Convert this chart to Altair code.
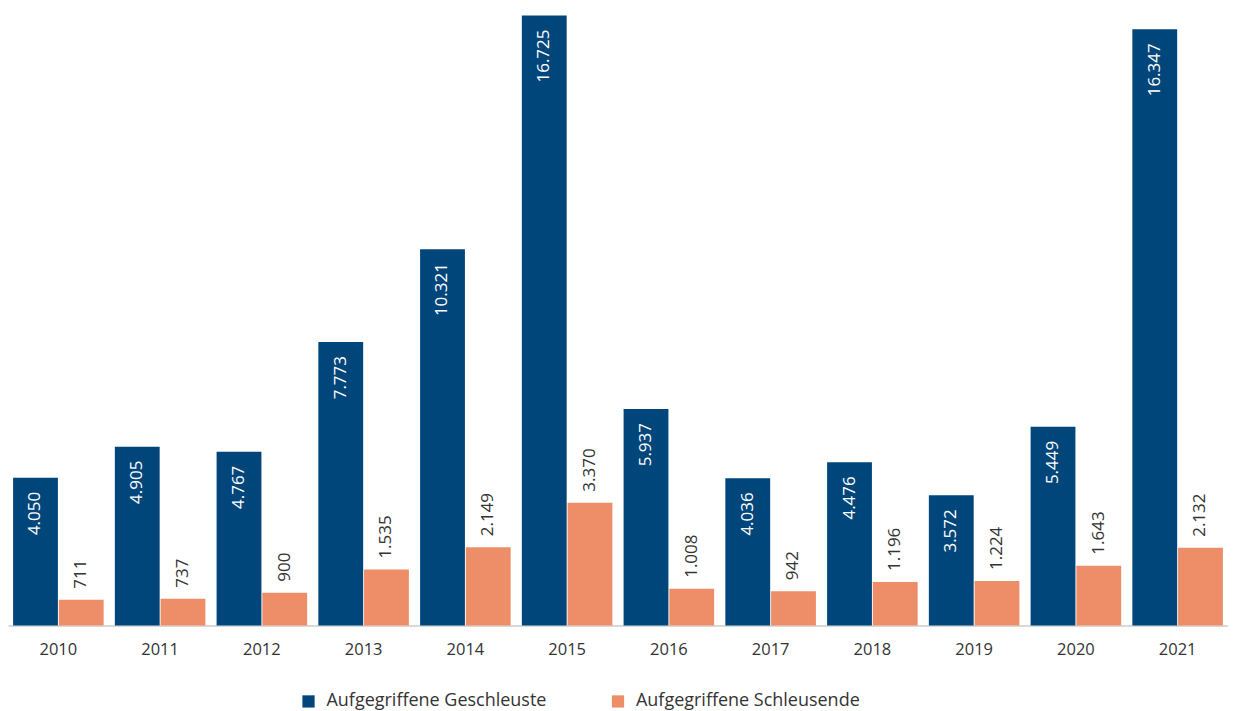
import altair as alt
import pandas as pd

years = ["2010", "2011", "2012", "2013", "2014", "2015", "2016", "2017", "2018", "2019", "2020", "2021"]
geschleuste = [4050, 4905, 4767, 7773, 10321, 16725, 5937, 4036, 4476, 3572, 5449, 16347]
schleusende = [711, 737, 900, 1535, 2149, 3370, 1008, 942, 1196, 1224, 1643, 2132]
series = ["Aufgegriffene Geschleuste", "Aufgegriffene Schleusende"]
colors = ["#00467A", "#ED8E68"]


def de(v):
    return f"{v:,}".replace(",", ".")


rows = []
for y, a, b in zip(years, geschleuste, schleusende):
    rows.append({"Jahr": y, "Serie": series[0], "Wert": a, "Label": de(a), "ord": 0})
    rows.append({"Jahr": y, "Serie": series[1], "Wert": b, "Label": de(b), "ord": 1})
df = pd.DataFrame(rows)

FONT = "Open Sans"

x = alt.X("Jahr:N", sort=years, title=None,
          scale=alt.Scale(paddingInner=0.11, paddingOuter=0.05),
          axis=alt.Axis(labelAngle=0, ticks=False, labelPadding=16, labelFontSize=16.5,
                        labelColor="#333333", domainColor="#cccccc", domainWidth=1.5,
                        labelFont=FONT))
xo = alt.XOffset("Serie:N", sort=series, scale=alt.Scale(paddingInner=0.02))
y = alt.Y("Wert:Q", axis=None, scale=alt.Scale(domain=[0, 16725], nice=False, zero=True))

base = alt.Chart(df).encode(x=x, xOffset=xo, y=y)

bars = base.mark_bar().encode(
    color=alt.Color("Serie:N", sort=series,
                    scale=alt.Scale(domain=series, range=colors),
                    legend=alt.Legend(title=None, orient="none", direction="horizontal",
                                      legendX=292, legendY=678, symbolType="square",
                                      symbolSize=150, symbolStrokeWidth=0,
                                      labelFontSize=18, labelFont=FONT, labelColor="#333333",
                                      labelLimit=0, columnPadding=62, labelOffset=9))
)

text_in = base.transform_filter(alt.datum.ord == 0).mark_text(
    angle=270, align="right", baseline="middle", dx=-14, fontSize=17, font=FONT, color="white"
).encode(text="Label:N")

text_out = base.transform_filter(alt.datum.ord == 1).mark_text(
    angle=270, align="left", baseline="middle", dx=11, fontSize=17, font=FONT, color="#333333"
).encode(text="Label:N")

chart = alt.layer(bars, text_in, text_out).properties(
    width=1222, height=611,
    padding={"left": 0, "top": 7, "right": 0, "bottom": 0},
).configure_view(stroke=None)

chart.save("out.html", embed_options={"renderer": "svg", "actions": False})
